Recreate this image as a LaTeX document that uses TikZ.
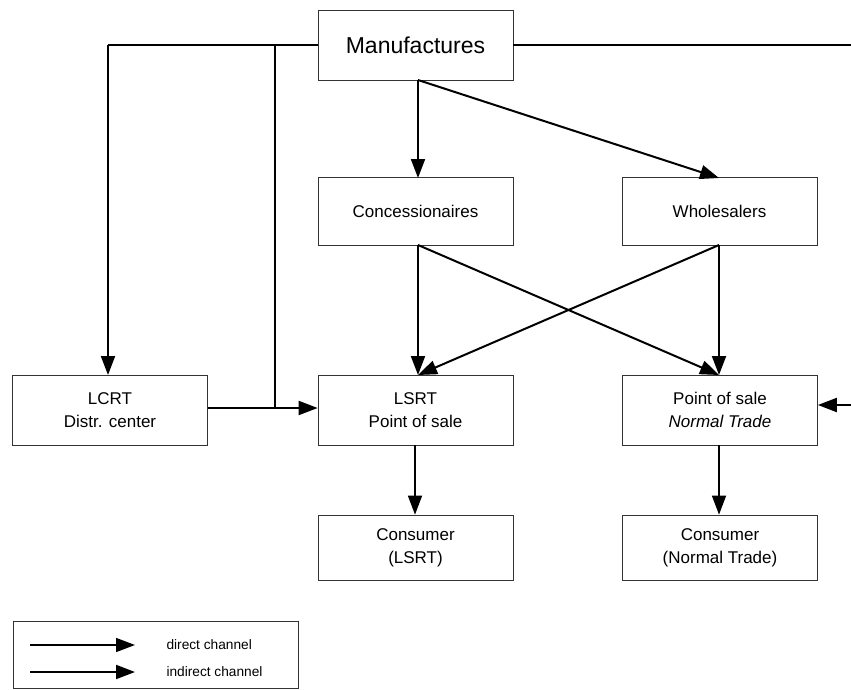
\documentclass[tikz,border=0pt]{standalone}
\usepackage{fontspec}
\setmainfont{Liberation Sans}
\usetikzlibrary{arrows.meta}
\begin{document}
\begin{tikzpicture}[x=1pt,y=-1pt,
  box/.style={draw=black!80,line width=0.7pt,minimum width=195pt,minimum height=68pt,
    align=center,inner sep=2pt,font=\fontsize{17}{23}\selectfont},
  chan/.style={line width=2pt,-{Triangle[length=19pt,width=14pt]}},
  wire/.style={line width=2pt}]
\useasboundingbox (0,0) rectangle (851,690);

% nodes
\node[box,minimum height=70pt,font=\fontsize{23}{28}\selectfont] (man) at (415.5,45) {Manufactures};
\node[box] (con) at (415.5,211.5) {Concessionaires};
\node[box] (who) at (719.5,211.5) {Wholesalers};
\node[box,minimum height=70pt] (lcrt) at (110,410) {LCRT\\Distr. center};
\node[box,minimum height=70pt] (lsrt) at (415.5,410) {LSRT\\Point of sale};
\node[box,minimum height=70pt] (pos) at (720,410) {Point of sale\\\textit{Normal Trade}};
\node[box,minimum height=65pt] (cl) at (415.5,547.5) {Consumer\\(LSRT)};
\node[box,minimum height=65pt] (cn) at (720,547.5) {Consumer\\(Normal Trade)};

% junctions of the manufacturer's direct lines
\coordinate (tl) at (108,45);
\coordinate (tj) at (275,45);
\coordinate (bj) at (275,408);
\coordinate (re) at (851,45);
\coordinate (rr) at (851,405);

% direct channels
\draw[wire] (man.west) -- (tl);
\draw[chan] (tl) -- (108,375);
\draw[wire] (tj) -- (bj);
\draw[chan] (lcrt.east |- bj) -- (lsrt.west |- bj);
\draw[wire] (man.east) -- (re);
\draw[chan] (rr) -- (pos.east |- rr);

% indirect channels
\coordinate (mb) at (418,80);
\coordinate (cb) at (418,245);
\coordinate (wb) at (719,245);
\draw[chan] (mb) -- (418,178);
\draw[chan] (mb) -- (719,178);
\draw[chan] (cb) -- (418,375);
\draw[chan] (cb) -- (719,375);
\draw[chan] (wb) -- (719,375);
\draw[chan] (wb) -- (418,375);
\draw[chan,line width=1.5pt] (lsrt.south -| 415,0) -- (cl.north -| 415,0);
\draw[chan,line width=1.5pt] (pos.south -| 719,0) -- (cn.north -| 719,0);

% legend
\node[draw=black!80,line width=0.7pt,minimum width=285pt,minimum height=67pt] (leg) at (156,654.5) {};
\coordinate (d1) at (30,645);
\coordinate (d2) at (135,645);
\coordinate (i1) at (30,672);
\coordinate (i2) at (135,672);
\draw[chan,line width=1.5pt] (d1) -- (d2);
\draw[chan,line width=2pt] (i1) -- (i2);
\node[anchor=west,font=\fontsize{13.7}{16}\selectfont] (lt1) at (163,645) {direct channel};
\node[anchor=west,font=\fontsize{13.7}{16}\selectfont] (lt2) at (163,672) {indirect channel};
\end{tikzpicture}
\end{document}
